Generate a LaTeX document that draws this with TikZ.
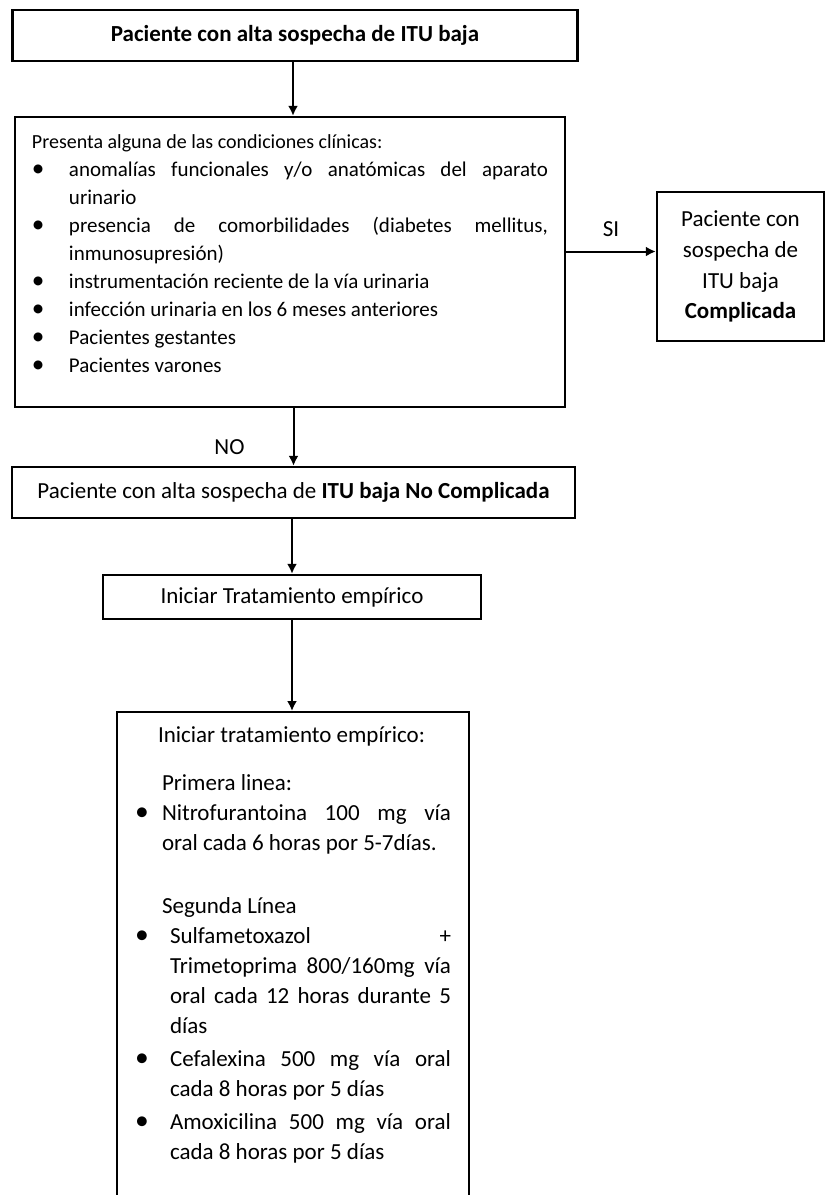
\documentclass[tikz,border=0pt]{standalone}
\usepackage{fontspec}
\setmainfont{Carlito}
\usepackage{enumitem}
\usetikzlibrary{arrows.meta, positioning}
\newcommand{\bigbullet}{\scalebox{1.2}{\textbullet}}

\begin{document}
\begin{tikzpicture}[
    x=0.5pt, y=-0.5pt,
    box/.style={draw, line width=1.2pt, inner sep=0pt,
      font=\fontsize{11.5}{15}\selectfont},
    arrow/.style={line width=1pt, -{Latex[length=5pt, width=5pt]}},
    tag/.style={font=\fontsize{11.5}{15}\selectfont, inner sep=0pt},
  ]
    \useasboundingbox (0,0) rectangle (825,1195);
    \node[box, minimum width=282.5pt, minimum height=25.5pt,
      font=\fontsize{11.5}{14}\selectfont\bfseries] (sospecha) at (295,35.5)
      {Paciente con alta sospecha de ITU baja};
    \node[box, inner xsep=8.5pt, inner ysep=9pt, font=\fontsize{10.5}{14}\selectfont] (condiciones) at (290,262)
      {\parbox[c][127pt][t]{258pt}{{\fontsize{10}{14}\selectfont Presenta alguna de las condiciones clínicas:}
        \begin{itemize}[label=\bigbullet, leftmargin=18.5pt, labelwidth=18.5pt, labelsep=0pt,
          align=left, topsep=0pt, itemsep=0pt, parsep=0pt, partopsep=0pt]
          \item anomalías funcionales y/o anatómicas del aparato\linebreak urinario
          \item presencia de comorbilidades (diabetes mellitus,\linebreak inmunosupresión)
          \item instrumentación reciente de la vía urinaria
          \item infección urinaria en los 6 meses anteriores
          \item Pacientes gestantes
          \item Pacientes varones
        \end{itemize}}};
    \node[box, align=center, minimum width=83.5pt, minimum height=74.5pt,
      font=\fontsize{11.5}{15.4}\selectfont] (complicada) at (740.5,266.5)
      {Paciente con\\ sospecha de\\ ITU baja\\ \textbf{Complicada}};
    \node[box, minimum width=281.5pt, minimum height=25.5pt] (nocomplicada) at (293.5,492.5)
      {Paciente con alta sospecha de \textbf{ITU baja No Complicada}};
    \node[box, minimum width=189pt, minimum height=22pt] (empirico) at (292,597)
      {Iniciar Tratamiento empírico};
    \node[box, anchor=north, inner xsep=9pt, inner ysep=7pt] (tratamiento) at (293,711)
      {\parbox[c][270pt][t]{158pt}{\hspace*{11.5pt}Iniciar tratamiento empírico:\par
        \vspace{9pt}
        \hspace*{13.5pt}Primera linea:
        \begin{itemize}[label=\bigbullet, leftmargin=13.5pt, labelwidth=13.5pt, labelsep=0pt,
          align=left, topsep=0pt, itemsep=0pt, parsep=0pt, partopsep=0pt]
          \item Nitrofurantoina 100 mg vía\linebreak oral cada 6 horas por 5-7días.
        \end{itemize}
        \vspace{16.5pt}
        \hspace*{13.5pt}Segunda Línea
        \begin{itemize}[label=\bigbullet, leftmargin=17.5pt, labelwidth=17.5pt, labelsep=0pt,
          align=left, topsep=0pt, itemsep=1.5pt, parsep=0pt, partopsep=0pt]
          \item Sulfametoxazol +\linebreak Trimetoprima 800/160mg vía\linebreak oral cada 12 horas durante 5\linebreak días
          \item Cefalexina 500 mg vía oral\linebreak cada 8 horas por 5 días
          \item Amoxicilina 500 mg vía oral\linebreak cada 8 horas por 5 días
        \end{itemize}}};
    % connectors
    \draw[arrow] (sospecha.south -| 293,0) -- (condiciones.north -| 293,0);
    \draw[arrow] ([yshift=5.25pt]condiciones.east) -- ([yshift=5.25pt]condiciones.east -| complicada.west)
      node[tag, above=7pt, pos=0.5] {SI};
    \draw[arrow] (condiciones.south -| nocomplicada) -- (nocomplicada.north)
      node[tag, left=24pt, pos=0.68] {NO};
    \draw[arrow] (nocomplicada.south -| empirico) -- (empirico.north);
    \draw[arrow] (empirico.south) -- (empirico.south |- tratamiento.north);
\end{tikzpicture}
\end{document}
